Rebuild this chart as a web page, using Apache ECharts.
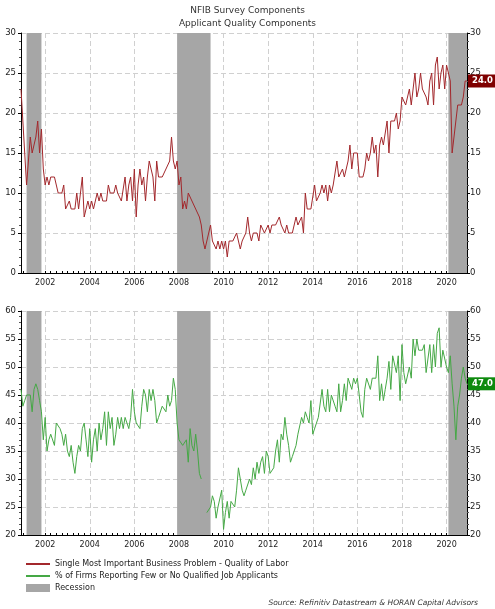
<!DOCTYPE html>
<html>
<head>
    <meta charset="utf-8">
    <title>NFIB Survey Components</title>
    <script src="https://cdn.jsdelivr.net/npm/echarts/dist/echarts.min.js"></script>
    <style>
        html, body {margin:0;padding:0;background:#fff;}
        #chart {width:495px;height:609px;}
    </style>
</head>
<body>
<div id="chart"></div>
<script>
    // monthly readings, Dec 2000 .. Dec 2020
    const startYear = 2000, startMonth = 12;

    const qualityOfLabor = [
        23,
        19,19,11,14,17,15,16,17,19,15,18,13, // 2001
        11,12,11,12,12,12,12,10,10,10,11,8,  // 2002
        8,9,8,8,8,10,8,10,12,7,8,9,          // 2003
        8,9,8,9,10,9,10,9,9,9,11,10,         // 2004
        10,10,11,10,10,9,9,12,9,11,12,9,     // 2005
        13,7,11,13,11,12,9,12,14,14,12,9,    // 2006
        14,12,12,12,12,13,13,14,17,14,13,14, // 2007
        11,12,8,9,8,10,10,9,9,8,8,7,         // 2008
        6,4,3,4,4,6,4,4,3,4,3,4,             // 2009
        3,4,2,4,4,4,4,5,4,3,4,4,             // 2010
        5,7,5,4,5,5,5,4,6,6,5,5,             // 2011
        6,5,6,6,6,6,7,6,6,5,6,5,             // 2012
        5,5,5,7,6,6,7,5,10,8,8,8,            // 2013
        8,11,9,9,10,11,10,11,9,11,10,11,     // 2014
        11,14,12,12,13,12,13,14,16,13,15,15, // 2015
        15,12,12,12,13,15,14,15,17,15,16,12, // 2016
        16,17,16,16,19,15,19,19,19,20,18,19, // 2017
        22,22,21,22,23,21,23,25,22,23,25,23, // 2018
        23,22,21,24,25,21,26,27,23,25,26,23, // 2019
        26,25,24,15,17,19,21,21,21,22,24,24  // 2020
    ];

    const fewQualified = [
        46,
        43,44,45,45,45,42,46,47,46,44,42,37, // 2001
        41,35,37,38,38,36,40,40,39,38,36,38, // 2002
        35,34,36,33,31,34,36,35,39,40,37,34, // 2003
        39,33,37,39,35,40,37,39,42,36,42,39, // 2004
        41,36,38,41,39,41,39,41,41,39,41,46, // 2005
        42,40,40,39,43,46,45,42,46,44,46,44, // 2006
        40,41,41,43,43,42,45,43,44,48,46,40, // 2007
        37,37,36,36,37,33,39,36,35,38,35,31, // 2008
        30,null,null,24,24,25,27,26,23,25,25,28, // 2009
        21,24,26,23,26,26,25,28,32,30,28,27, // 2010
        28,28,30,29,32,30,33,31,33,34,31,35, // 2011
        34,31,31,32,35,37,33,38,37,41,38,36, // 2012
        33,34,34,36,38,38,41,40,42,41,40,44, // 2013
        38,38,40,41,41,46,43,42,46,42,45,45, // 2014
        43,42,47,42,44,47,44,48,48,46,48,47, // 2015
        48,45,42,41,46,48,48,46,48,48,48,52, // 2016
        44,47,44,46,48,51,46,52,52,49,52,44, // 2017
        54,49,47,47,50,48,55,52,55,53,53,53, // 2018
        54,49,49,54,49,54,50,56,57,50,53,53, // 2019
        50,49,52,47,43,37,43,45,48,50,48,47  // 2020
    ];

    const recessions = [['2001-03', '2001-11'], ['2007-12', '2009-06'], ['2020-02', '2020-12']];
    const yearTicks = ['2002', '2004', '2006', '2008', '2010', '2012', '2014', '2016', '2018', '2020'];

    const nameQuality = 'Single Most Important Business Problem - Quality of Labor';
    const nameFirms = '% of Firms Reporting Few or No Qualified Job Applicants';

    const FONT = '"DejaVu Sans", Verdana, sans-serif';
    const RED = '#a3282c', GREEN = '#45a845', GREY = '#a6a6a6', GRID = '#d0d0d0';

    // month labels
    const months = [];
    for (let k = 0; k < qualityOfLabor.length; k++) {
        const m0 = startMonth - 1 + k;
        const y = startYear + Math.floor(m0 / 12);
        const m = m0 % 12 + 1;
        months.push(y + '-' + (m < 10 ? '0' : '') + m);
    }
    const isYearTick = (i, v) => v.slice(5) === '01' && yearTicks.indexOf(v.slice(0, 4)) >= 0;
    const isQuarter = (i, v) => ['01', '04', '07', '10'].indexOf(v.slice(5)) >= 0;

    function xAxisFor(g) {
        return {
            type: 'category', gridIndex: g, data: months, boundaryGap: false,
            axisLine: {lineStyle: {color: '#000', width: 1}},
            axisTick: {show: true, inside: true, length: 2, interval: isQuarter, lineStyle: {color: '#000'}},
            axisLabel: {interval: isYearTick, color: '#222', fontSize: 8, fontFamily: FONT, margin: 6,
                formatter: v => v.slice(0, 4)},
            splitLine: {show: true, interval: isYearTick, lineStyle: {color: GRID, type: [5, 3]}}
        };
    }

    function yAxisFor(g, min, max, pos) {
        return {
            type: 'value', gridIndex: g, min: min, max: max, interval: 5, position: pos,
            axisLine: {show: true, lineStyle: {color: '#000'}},
            axisTick: {show: true, length: 3, lineStyle: {color: '#000'}},
            minorTick: {show: true, splitNumber: 5, length: 2, lineStyle: {color: '#555'}},
            axisLabel: {color: '#222', fontSize: 8.5, fontFamily: FONT, margin: pos === 'left' ? 5 : 3},
            splitLine: {show: pos === 'left', lineStyle: {color: GRID, type: [5, 3]}}
        };
    }

    function endLabel(bg) {
        return {
            show: true, distance: 1,
            formatter: p => {
                const v = Array.isArray(p.value) ? p.value[p.value.length - 1] : p.value;
                return Number(v).toFixed(1);
            },
            color: '#fff', fontWeight: 'bold', fontSize: 8.5, fontFamily: FONT,
            backgroundColor: bg, padding: [2, 4, 2, 4]
        };
    }

    const shading = {
        silent: true,
        itemStyle: {color: GREY, opacity: 1},
        data: recessions.map(r => [{xAxis: r[0]}, {xAxis: r[1]}])
    };

    const chart = echarts.init(document.getElementById('chart'), null, {renderer: 'canvas'});
    chart.setOption({
        animation: false,
        backgroundColor: '#fff',
        textStyle: {fontFamily: FONT},
        title: [
            {text: 'NFIB Survey Components', subtext: 'Applicant Quality Components', left: 'center', top: 1, itemGap: 4,
                textStyle: {fontSize: 9, fontWeight: 'normal', color: '#333', fontFamily: FONT},
                subtextStyle: {fontSize: 9, color: '#333', fontFamily: FONT}},
            {text: 'Source: Refinitiv Datastream & HORAN Capital Advisors', right: 12, top: 594,
                textStyle: {fontSize: 7.5, fontStyle: 'italic', fontWeight: 'normal', color: '#333', fontFamily: FONT}}
        ],
        grid: [
            {left: 21, right: 28, top: 33, height: 240},
            {left: 21, right: 28, top: 311, height: 224}
        ],
        xAxis: [xAxisFor(0), xAxisFor(1)],
        yAxis: [yAxisFor(0, 0, 30, 'left'), yAxisFor(0, 0, 30, 'right'),
                yAxisFor(1, 20, 60, 'left'), yAxisFor(1, 20, 60, 'right')],
        legend: {
            orient: 'vertical', left: 20, top: 555, itemWidth: 24, itemHeight: 8, itemGap: 4,
            textStyle: {fontSize: 8, color: '#222', fontFamily: FONT},
            data: [
                {name: nameQuality, itemStyle: {opacity: 0}},
                {name: nameFirms, itemStyle: {opacity: 0}},
                {name: 'Recession', icon: 'rect'}
            ]
        },
        series: [
            {name: nameQuality, type: 'line', xAxisIndex: 0, yAxisIndex: 0, data: qualityOfLabor,
                symbol: 'none', color: RED, lineStyle: {color: RED, width: 1}, z: 3,
                endLabel: endLabel('#7f0000'), markArea: shading},
            {name: nameFirms, type: 'line', xAxisIndex: 1, yAxisIndex: 2, data: fewQualified,
                symbol: 'none', color: GREEN, lineStyle: {color: GREEN, width: 1}, connectNulls: false, z: 3,
                endLabel: endLabel('#0e8a0e'), markArea: shading},
            {name: 'Recession', type: 'bar', xAxisIndex: 1, yAxisIndex: 2, data: [], color: GREY}
        ]
    });
</script>
</body>
</html>
